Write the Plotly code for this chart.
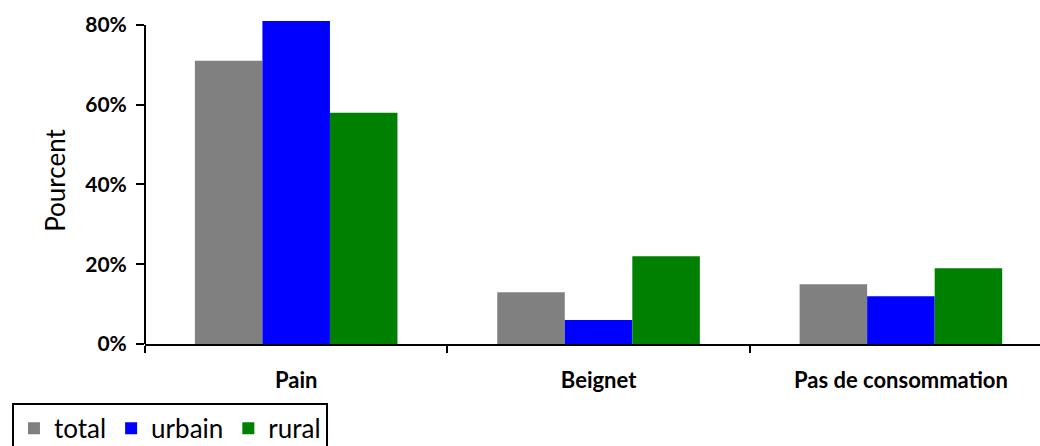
import plotly.graph_objects as go

categories = ["Pain", "Beignet", "Pas de consommation"]
total = [71, 13, 15]
urbain = [81, 6, 12]
rural = [58, 22, 19]
y_ticks = [0, 20, 40, 60, 80]
y_tick_labels = ["0%", "20%", "40%", "60%", "80%"]

font_family = "Lato, Carlito, Calibri, sans-serif"
series = [("total", total, "#808080"),
          ("urbain", urbain, "#0000FF"),
          ("rural", rural, "#008000")]

fig = go.Figure()
for name, vals, color in series:
    fig.add_trace(go.Bar(x=categories, y=vals, name=name, showlegend=False,
                         marker=dict(color=color, line=dict(width=0))))

# legend entries with larger square swatches
for name, vals, color in series:
    fig.add_trace(go.Scatter(x=[None], y=[None], mode="markers", name=name,
                             marker=dict(symbol="square", size=19, color=color)))

# value axis line stops at the top tick (80%)
fig.add_shape(type="line", xref="paper", yref="y", x0=0, x1=0, y0=0, y1=80,
              line=dict(color="black", width=2))

fig.update_layout(
    width=1040, height=446,
    margin=dict(l=145, r=0, t=17, b=102, autoexpand=False),
    paper_bgcolor="white", plot_bgcolor="white",
    barmode="group", bargap=0.33, bargroupgap=0,
    font=dict(family=font_family, color="black"),
    showlegend=True,
    legend=dict(orientation="h", xref="container", yref="container",
                x=0.0115, y=0.097, xanchor="left", yanchor="top",
                bordercolor="black", borderwidth=2,
                font=dict(size=26, family=font_family),
                itemsizing="constant", traceorder="normal",
                itemwidth=30, tracegroupgap=0),
    xaxis=dict(type="category", range=[-0.5, 2.46],
               showline=True, linecolor="black", linewidth=2,
               ticks="outside", tickson="boundaries", ticklen=7, tickwidth=2,
               tickcolor="black", showgrid=False, ticklabelstandoff=16,
               tickfont=dict(size=22, family=font_family, weight="bold")),
    yaxis=dict(range=[0, 82], tickvals=y_ticks, ticktext=y_tick_labels,
               showline=False,
               ticks="outside", ticklen=8, tickwidth=2, tickcolor="black",
               showgrid=False, zeroline=False, ticklabelstandoff=5,
               tickfont=dict(size=21, family=font_family, weight="bold"),
               title=dict(text="Pourcent", font=dict(size=26, family=font_family),
                          standoff=12)),
)

fig.write_html("out.html")
